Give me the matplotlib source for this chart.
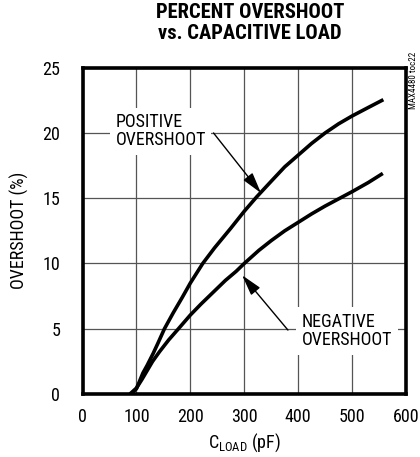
import matplotlib
matplotlib.use("Agg")
import matplotlib.pyplot as plt
from matplotlib import font_manager

def pick(names):
    for n in names:
        try:
            font_manager.findfont(n, fallback_to_default=False)
            return n
        except Exception:
            pass
    return "DejaVu Sans"

FONT = pick(["Roboto Condensed", "Archivo Narrow", "Liberation Sans Narrow", "Liberation Sans"])
plt.rcParams['font.family'] = [FONT, 'DejaVu Sans']
plt.rcParams['mathtext.fontset'] = 'custom'
plt.rcParams['mathtext.rm'] = FONT

# data
pos_x = [90, 100, 112, 120, 131, 140, 152, 168, 185, 200, 223, 245, 275, 300, 323, 350, 375, 400, 425, 450, 475, 500, 530, 558]
pos_y = [0, 0.4, 1.6, 2.2, 3.1, 3.9, 5.0, 6.2, 7.4, 8.5, 10.0, 11.2, 12.7, 14.0, 15.1, 16.3, 17.4, 18.3, 19.2, 20.0, 20.7, 21.3, 21.95, 22.55]
neg_x = [88, 100, 110, 120, 130, 143, 160, 178, 200, 220, 235, 250, 265, 285, 300, 327, 350, 375, 400, 425, 450, 475, 500, 530, 557]
neg_y = [0, 0.45, 1.1, 1.8, 2.5, 3.25, 4.15, 5.0, 6.05, 6.9, 7.5, 8.1, 8.7, 9.4, 10.0, 11.0, 11.75, 12.5, 13.15, 13.8, 14.4, 14.95, 15.5, 16.2, 16.9]

x_ticks = [0, 100, 200, 300, 400, 500, 600]
y_ticks = [0, 5, 10, 15, 20, 25]

fig = plt.figure(figsize=(4.2, 4.57), dpi=100)
ax = fig.add_axes([82.5/420, 1-394/457, (406-82.5)/420, (394-67.7)/457])
ax.set_xlim(0, 600)
ax.set_ylim(0, 25)
ax.set_xticks(x_ticks)
ax.set_yticks(y_ticks)
ax.tick_params(length=0, labelsize=13, pad=10)
ax.tick_params(axis='y', pad=16)
ax.grid(True, color='#555555', linewidth=0.9)
ax.set_axisbelow(True)
for s in ax.spines.values():
    s.set_linewidth(2.6)
    s.set_color('black')
    s.set_zorder(5)

ax.plot(pos_x, pos_y, color='black', linewidth=2.6, zorder=3, solid_capstyle='butt', solid_joinstyle='round')
ax.plot(neg_x, neg_y, color='black', linewidth=2.6, zorder=3, solid_capstyle='butt', solid_joinstyle='round')

ax.text(61, 21.5, "POSITIVE\nOVERSHOOT", fontsize=13, va='top', ha='left', linespacing=1.0,
        bbox=dict(facecolor='white', edgecolor='none', pad=4), zorder=4)
ax.text(407, 6.2, "NEGATIVE\nOVERSHOOT", fontsize=13, va='top', ha='left', linespacing=1.0,
        bbox=dict(facecolor='white', edgecolor='none', pad=4), zorder=4)

arrow = dict(arrowstyle='-|>,head_length=0.8,head_width=0.22', color='black', lw=1.0,
             mutation_scale=16, shrinkA=0, shrinkB=0)
ax.annotate("", xy=(331, 15.4), xytext=(243, 20.0), arrowprops=arrow, zorder=4)
ax.annotate("", xy=(296, 9.1), xytext=(381, 4.9), arrowprops=arrow, zorder=4)

ax.set_ylabel("OVERSHOOT (%)", fontsize=13, labelpad=10)
ax.set_xlabel(r"C$_{\mathregular{LOAD}}$ (pF)", fontsize=13, labelpad=4)

fig.text(250/420, 1-23/457, "PERCENT OVERSHOOT\nvs. CAPACITIVE LOAD", ha='center', va='center',
         fontsize=14.8, fontweight='bold', linespacing=1.15)
fig.text(414/420, 1-80/457, "MAX4480 toc22", rotation=90, ha='center', va='center', fontsize=6.5)

fig.savefig("out.png", dpi=100)
